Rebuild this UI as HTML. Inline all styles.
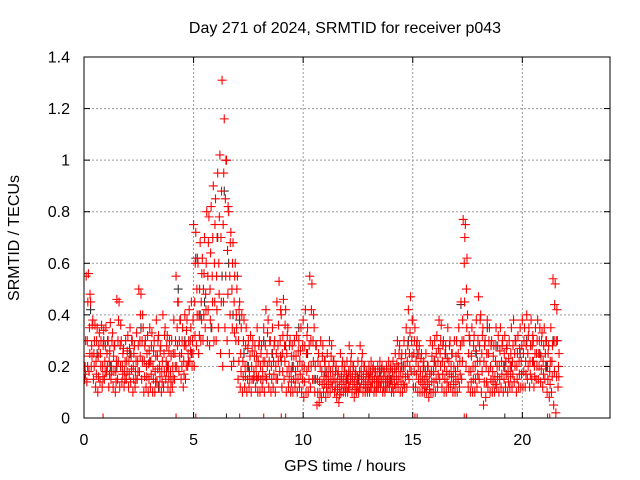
<!DOCTYPE html>
<html><head><meta charset="utf-8"><style>
body{margin:0;background:#fff;}
svg{display:block;font-family:"Liberation Sans",sans-serif;}
</style></head><body>
<svg id="chart" width="640" height="480" xmlns="http://www.w3.org/2000/svg">
<rect x="0" y="0" width="640" height="480" fill="#fff"/>
<defs><clipPath id="pc"><rect x="84" y="57" width="526" height="361"/></clipPath></defs>
<text x="345" y="33" font-size="16" text-anchor="middle">Day 271 of 2024, SRMTID for receiver p043</text>
<text transform="translate(19,238) rotate(-90)" font-size="16" text-anchor="middle">SRMTID / TECUs</text>
<text x="345" y="471" font-size="16" text-anchor="middle">GPS time / hours</text>
<g id="grid"></g><g id="axes"></g><g id="marks" clip-path="url(#pc)"></g>
<rect x="84" y="57" width="526" height="361" fill="none" stroke="#000" stroke-width="1"/>
</svg>
<script>
const xTicks=[0,5,10,15,20];
const yTicks=[0,0.2,0.4,0.6,0.8,1,1.2,1.4];
const yTickLabels=["0","0.2","0.4","0.6","0.8","1","1.2","1.4"];
const tStart=0, tStep=0.1;
const redHi=[.24,.55,.56,.45,.38,.36,.35,.33,.36,.34,.35,.3,.37,.33,.28,.46,.45,.3,.27,.3,.32,.35,.3,.28,.33,.5,.48,.35,.3,.32,.35,.33,.3,.38,.32,.28,.4,.35,.32,.3,.3,.38,.55,.45,.38,.35,.4,.38,.42,.45,.75,.72,.6,.68,.62,.7,.8,.78,.82,.9,.85,.95,1.02,1.31,1.16,1.0,.8,.72,.68,.6,.55,.45,.4,.38,.35,.3,.32,.3,.28,.35,.3,.28,.35,.42,.38,.3,.35,.3,.45,.53,.4,.46,.42,.35,.3,.28,.3,.32,.3,.35,.38,.42,.35,.55,.52,.35,.28,.25,.3,.28,.22,.25,.3,.28,.22,.2,.18,.25,.22,.2,.22,.28,.25,.2,.18,.22,.28,.25,.2,.18,.2,.22,.2,.18,.2,.22,.2,.18,.2,.22,.2,.22,.25,.3,.28,.25,.3,.35,.42,.47,.38,.35,.3,.28,.25,.22,.25,.2,.3,.28,.3,.32,.38,.36,.3,.28,.35,.3,.25,.3,.3,.35,.45,.77,.75,.4,.3,.35,.32,.38,.47,.4,.35,.3,.38,.35,.3,.28,.35,.32,.35,.3,.32,.28,.3,.35,.38,.3,.32,.35,.38,.35,.4,.35,.38,.3,.35,.38,.35,.33,.35,.3,.28,.35,.54,.52,.3];
const redQ=[.3,.45,.48,.36,.3,.3,.28,.3,.28,.28,.3,.26,.3,.28,.22,.38,.36,.25,.22,.26,.27,.3,.25,.22,.28,.4,.4,.28,.25,.26,.28,.26,.24,.3,.26,.22,.32,.28,.26,.24,.25,.3,.45,.38,.3,.28,.34,.3,.35,.38,.6,.62,.5,.56,.56,.6,.68,.64,.7,.75,.7,.78,.88,.95,1.0,.82,.68,.6,.55,.5,.42,.35,.3,.28,.27,.24,.26,.24,.24,.28,.25,.22,.28,.33,.3,.25,.28,.25,.36,.42,.32,.36,.32,.28,.24,.24,.24,.26,.26,.28,.28,.32,.28,.42,.4,.28,.22,.2,.24,.22,.18,.2,.24,.22,.18,.17,.15,.2,.18,.17,.18,.22,.2,.17,.16,.18,.22,.2,.17,.16,.18,.19,.18,.16,.18,.19,.18,.16,.18,.19,.18,.19,.21,.25,.23,.2,.25,.28,.33,.38,.3,.28,.25,.23,.2,.18,.2,.17,.24,.22,.25,.27,.3,.28,.25,.23,.28,.25,.2,.24,.25,.28,.38,.7,.62,.32,.24,.28,.26,.3,.38,.32,.28,.25,.3,.28,.24,.22,.28,.26,.28,.25,.27,.23,.25,.28,.3,.25,.27,.28,.3,.28,.32,.28,.32,.25,.3,.3,.3,.28,.3,.25,.22,.28,.44,.42,.25];
const redMid=[.2,.3,.35,.28,.25,.22,.24,.25,.2,.22,.25,.22,.2,.24,.18,.3,.28,.2,.18,.22,.22,.24,.2,.18,.22,.3,.3,.22,.2,.21,.22,.2,.18,.24,.2,.18,.25,.22,.2,.18,.2,.25,.35,.3,.25,.22,.28,.25,.3,.3,.45,.5,.4,.45,.5,.48,.55,.5,.55,.6,.55,.6,.7,.75,.85,.65,.55,.5,.45,.4,.3,.25,.22,.2,.2,.18,.2,.18,.2,.22,.2,.18,.22,.25,.22,.2,.22,.2,.28,.3,.25,.28,.25,.2,.18,.2,.18,.2,.22,.2,.2,.25,.2,.3,.3,.2,.15,.14,.18,.16,.15,.16,.18,.18,.15,.14,.12,.16,.15,.14,.15,.18,.16,.14,.13,.15,.18,.16,.14,.13,.15,.16,.15,.14,.15,.16,.15,.14,.15,.16,.15,.16,.18,.2,.18,.16,.2,.22,.25,.3,.25,.22,.2,.18,.16,.15,.16,.14,.18,.18,.2,.22,.25,.22,.2,.18,.22,.2,.16,.18,.2,.22,.3,.6,.5,.25,.18,.2,.2,.22,.28,.25,.22,.2,.25,.2,.18,.16,.2,.2,.22,.2,.22,.18,.2,.22,.25,.2,.22,.22,.25,.22,.25,.22,.28,.2,.25,.25,.24,.22,.25,.2,.18,.22,.3,.3,.2];
const redR=[.17,.2,.25,.24,.2,.17,.16,.2,.16,.18,.2,.17,.18,.18,.14,.22,.2,.17,.15,.18,.17,.19,.15,.15,.18,.24,.22,.16,.16,.15,.17,.15,.14,.19,.16,.14,.18,.18,.16,.14,.16,.2,.28,.24,.2,.17,.2,.22,.26,.25,.32,.4,.32,.38,.4,.42,.42,.38,.45,.45,.42,.48,.45,.45,.55,.48,.4,.35,.33,.35,.22,.18,.16,.16,.15,.15,.15,.16,.16,.16,.15,.15,.16,.2,.17,.15,.17,.15,.22,.24,.18,.22,.18,.16,.14,.15,.15,.15,.17,.15,.14,.18,.15,.2,.22,.15,.1,.1,.13,.13,.12,.13,.14,.15,.12,.11,.09,.13,.12,.12,.12,.15,.13,.11,.12,.12,.15,.13,.12,.12,.12,.14,.12,.12,.14,.14,.12,.12,.14,.14,.12,.13,.15,.16,.14,.13,.16,.17,.2,.24,.18,.17,.15,.14,.13,.12,.13,.11,.14,.14,.15,.17,.2,.17,.15,.14,.17,.16,.13,.14,.15,.17,.22,.45,.35,.18,.14,.15,.15,.17,.22,.18,.14,.14,.18,.15,.14,.13,.16,.15,.17,.15,.17,.14,.16,.17,.2,.15,.17,.17,.18,.17,.2,.17,.22,.16,.2,.2,.19,.17,.2,.15,.13,.16,.18,.16,.16];
const redLo=[.15,.14,.18,.2,.15,.12,.1,.14,.12,.15,.18,.12,.15,.12,.1,.15,.12,.14,.12,.15,.12,.14,.1,.12,.15,.18,.15,.1,.12,.1,.12,.1,.1,.14,.12,.1,.12,.15,.12,.1,.12,.15,.2,.18,.15,.12,.15,.2,.22,.2,.2,.28,.25,.3,.3,.35,.3,.28,.35,.3,.3,.35,.25,.2,.35,.3,.25,.2,.22,.3,.15,.12,.1,.12,.1,.12,.1,.15,.12,.1,.1,.12,.1,.15,.12,.1,.12,.1,.15,.18,.12,.15,.1,.12,.1,.1,.12,.1,.12,.1,.08,.1,.1,.12,.15,.1,.05,.06,.08,.1,.08,.1,.1,.12,.1,.08,.06,.1,.1,.1,.1,.12,.1,.08,.1,.1,.12,.1,.1,.1,.1,.12,.1,.1,.12,.12,.1,.1,.12,.12,.1,.1,.12,.12,.1,.1,.12,.12,.15,.18,.12,.12,.1,.1,.1,.1,.1,.08,.1,.1,.1,.12,.15,.12,.1,.1,.12,.12,.1,.1,.1,.12,.15,.3,.2,.12,.1,.1,.1,.12,.15,.1,.05,.08,.12,.1,.1,.1,.12,.1,.12,.1,.12,.1,.12,.12,.14,.1,.12,.12,.12,.12,.15,.12,.15,.12,.15,.15,.14,.12,.15,.1,.08,.1,.05,.02,.12];
const darkT=[0.3,0.6,0.9,1.2,1.5,2.1,2.6,3.0,3.4,3.8,4.3,4.6,4.9,5.1,5.3,5.5,5.8,6.1,6.3,6.4,6.5,6.6,6.8,7.1,7.3,7.5,7.9,8.2,8.6,9.0,9.2,9.5,9.8,10.2,10.5,11.0,11.5,12.0,12.5,13.0,13.5,14.0,14.5,14.8,15.2,15.5,16.0,16.5,17.2,17.6,17.9,18.4,18.8,19.2,19.5,19.9,20.2,20.5,20.8,21.1,21.4];
const darkV=[.42,.25,.3,.2,.2,.25,.35,.22,.12,.2,.5,.3,.25,.62,.4,.45,.35,.7,.55,.88,1.0,.6,.4,.38,.25,.2,.15,.3,.25,.22,.28,.2,.35,.25,.15,.18,.2,.15,.15,.17,.18,.15,.2,.3,.25,.2,.22,.25,.44,.3,.25,.35,.28,.2,.2,.25,.3,.22,.25,.2,.3];
const zeroRedT=[0.87,4.2,5.1,7.1,8.2,9.0,9.2,11.85,15.1,15.2,17.35,17.45,21.15,21.25];
const zeroDarkT=[13.0,19.2,6.5];
const X0=84,X1=610,Y0=418,Y1=57;
const xs=v=>X0+v*(X1-X0)/24;
const ys=v=>Y0-v*(Y0-Y1)/1.4;
const NS="http://www.w3.org/2000/svg";
const grid=document.getElementById('grid'),axes=document.getElementById('axes'),marks=document.getElementById('marks');
function mk(tag,attrs,parent){const e=document.createElementNS(NS,tag);for(const k in attrs)e.setAttribute(k,attrs[k]);parent.appendChild(e);return e;}
yTicks.forEach((v,i)=>{
  const y=ys(v);
  if(v>0&&v<1.4){const g=mk('line',{x1:X0,x2:X1,y1:y,y2:y,stroke:'#999','stroke-dasharray':'2,2'},grid);
  
  }
  mk('line',{x1:X0,x2:X0+6,y1:y,y2:y,stroke:'#000'},axes);
  mk('line',{x1:X1,x2:X1-6,y1:y,y2:y,stroke:'#000'},axes);
  const t=mk('text',{x:X0-14,y:y+5.5,'font-size':16,'text-anchor':'end'},axes);t.textContent=yTickLabels[i];
  
  
});
xTicks.forEach(v=>{
  const x=xs(v);
  if(v>0){const g=mk('line',{x1:x,x2:x,y1:Y0,y2:Y1,stroke:'#999','stroke-dasharray':'2,2'},grid);
  
  }
  mk('line',{x1:x,x2:x,y1:Y0,y2:Y0-6,stroke:'#000'},axes);
  mk('line',{x1:x,x2:x,y1:Y1,y2:Y1+6,stroke:'#000'},axes);
  const t=mk('text',{x:x,y:Y0+27,'font-size':16,'text-anchor':'middle'},axes);t.textContent=String(v);
  
  
});
function plus(t,v,color,name){
  const x=xs(t),y=ys(v);
  const p=mk('path',{d:`M${x-4.5},${y}h9M${x},${y-4.5}v9`,stroke:color,'stroke-width':1.1,fill:'none'},marks);
  
  
}
darkT.forEach((t,i)=>plus(t,darkV[i],'#333','dark-point'));
redHi.forEach((v,i)=>plus(tStart+i*tStep,v,'#f00','red-point'));
redQ.forEach((v,i)=>plus(tStart+i*tStep+0.075,v,'#f00','red-point'));
redMid.forEach((v,i)=>plus(tStart+i*tStep+0.05,v,'#f00','red-point'));
redR.forEach((v,i)=>plus(tStart+i*tStep+0.065,v,'#f00','red-point'));
redLo.forEach((v,i)=>plus(tStart+i*tStep+0.03,v,'#f00','red-point'));
zeroRedT.forEach(t=>plus(t,0,'#f00','red-zero-point'));
zeroDarkT.forEach(t=>plus(t,0,'#333','dark-zero-point'));
</script>
</body></html>
